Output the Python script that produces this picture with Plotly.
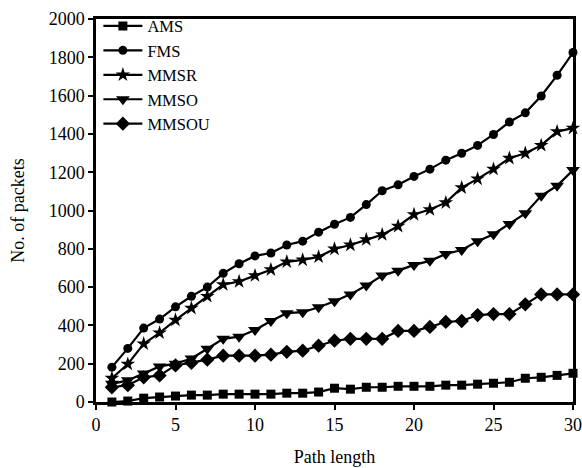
import plotly.graph_objects as go

path_length = list(range(1, 31))

ams = [0, 5, 20, 26, 31, 36, 36, 41, 41, 41, 41, 46, 46, 52, 72, 67, 77, 77, 82, 82,
       82, 88, 88, 93, 98, 103, 124, 129, 139, 150]
fms = [182, 280, 386, 433, 497, 552, 600, 672, 722, 763, 778, 820, 840, 887, 928, 964, 1031, 1103, 1134, 1178,
       1216, 1263, 1299, 1340, 1397, 1462, 1510, 1598, 1706, 1825]
mmsr = [124, 198, 304, 361, 428, 490, 552, 613, 629, 660, 691, 732, 742, 758, 799, 820, 848, 874, 918, 979,
        1005, 1041, 1119, 1165, 1216, 1273, 1299, 1340, 1412, 1430]
mmso = [95, 113, 149, 186, 200, 227, 278, 330, 341, 376, 423, 464, 469, 495, 526, 562, 608, 660, 686, 716,
        737, 773, 794, 840, 876, 930, 985, 1077, 1129, 1211]
mmsou = [77, 88, 129, 139, 191, 205, 221, 242, 242, 242, 247, 262, 268, 294, 320, 330, 330, 330, 371, 371,
         392, 418, 423, 454, 459, 459, 510, 562, 562, 562]

series = [
    ("AMS", ams, "square", 9),
    ("FMS", fms, "circle", 9),
    ("MMSR", mmsr, "star", 11),
    ("MMSO", mmso, "triangle-down", 12),
    ("MMSOU", mmsou, "diamond", 11),
]

FONT = "Liberation Serif"

fig = go.Figure()
for name, vals, sym, msize in series:
    fig.add_trace(go.Scatter(
        x=path_length, y=vals, name=name, mode="lines+markers",
        line=dict(color="black", width=2.2),
        marker=dict(symbol=sym, size=msize, color="black"),
        cliponaxis=False,
    ))

axis_common = dict(
    showline=True, linecolor="black", linewidth=2.5, mirror=True,
    ticks="outside", ticklen=5, tickwidth=2, tickcolor="black",
    showgrid=False, zeroline=False, automargin=False,
    tickfont=dict(family=FONT, size=18, color="black"),
)

fig.update_layout(
    width=582, height=468,
    margin=dict(l=96, r=9, t=14, b=66),
    paper_bgcolor="white", plot_bgcolor="white",
    font=dict(family=FONT, size=18, color="black"),
    xaxis=dict(range=[0, 30], tickvals=[0, 5, 10, 15, 20, 25, 30],
               title=dict(text="Path length", font=dict(family=FONT, size=18), standoff=17),
               **axis_common),
    yaxis=dict(range=[0, 2000], tickvals=list(range(0, 2001, 200)),
               title=dict(text="No. of packets", font=dict(family=FONT, size=18), standoff=20),
               **axis_common),
    legend=dict(x=0.005, y=1.027, xanchor="left", yanchor="top",
                bgcolor="rgba(0,0,0,0)", borderwidth=0,
                font=dict(family=FONT, size=16.5, color="black"),
                tracegroupgap=0, itemwidth=39),
    showlegend=True,
)

fig.write_html("out.html")
